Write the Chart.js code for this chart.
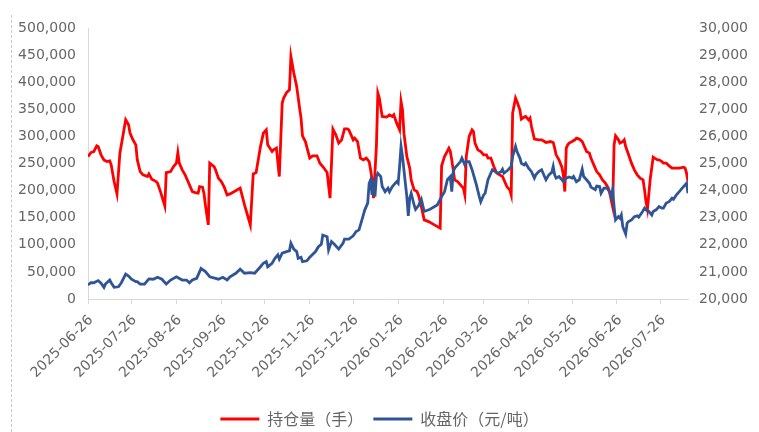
<!DOCTYPE html>
<html>
<head>
<meta charset="utf-8">
<script src="https://cdn.jsdelivr.net/npm/chart.js@4.4.1/dist/chart.umd.min.js"></script>
<style>
  html, body { margin: 0; padding: 0; background: #fff; }
  #wrap { position: relative; width: 759px; height: 432px; }
  #dash { position: absolute; left: 11px; top: 15px; bottom: 0; border-left: 1px dashed #c8c8c8; }
</style>
</head>
<body>
<div id="wrap">
  <div id="dash"></div>
  <canvas id="c"></canvas>
</div>
<script>
// ---- data (x = calendar-day offset from startDate) ----
const startDate = '2025-06-26';
const endDay = 414;
const tickLabels = ['2025-06-26','2025-07-26','2025-08-26','2025-09-26','2025-10-26','2025-11-26','2025-12-26',
  '2026-01-26','2026-02-26','2026-03-26','2026-04-26','2026-05-26','2026-06-26','2026-07-26'];
const seriesNames = ['持仓量（手）', '收盘价（元/吨）'];

const oiDays = [0,2,4,6,7,9,11,13,15,16,18,20,22,24,26,28,29,31,33,34,36,38,41,42,44,45,47,48,50,53,54,57,59,61,62,63,65,67,69,70,72,74,76,77,79,80,81,83,84,87,88,90,92,94,96,98,101,105,108,112,114,116,119,121,123,124,127,128,130,132,134,135,137,139,140,142,144,146,147,148,150,153,155,158,160,162,165,167,169,171,173,175,177,179,180,183,184,186,188,190,192,194,195,196,197,199,200,201,203,206,208,210,211,213,215,216,217,218,220,222,223,225,227,228,230,232,235,239,243,244,246,249,250,251,253,255,257,258,259,260,261,263,265,266,267,269,271,273,275,276,278,280,282,284,286,289,291,292,293,295,296,298,299,301,302,304,305,306,308,311,313,315,316,319,321,322,323,325,327,328,329,330,331,332,334,336,337,339,341,343,344,346,347,349,351,353,355,357,359,360,362,363,364,366,367,369,370,371,373,375,377,379,381,383,384,385,386,388,390,391,393,394,396,397,399,401,403,406,408,411,412,413,414];
const oiValues = [262800,270200,272100,282600,281300,266000,256700,253600,254900,247500,216700,193900,269100,299800,330600,321400,306000,293700,284400,256700,235100,229000,225900,230900,221100,219800,216700,213700,198200,171800,233300,235100,244400,250600,270200,250600,238300,229000,216700,210600,198200,196300,195200,207400,206300,195200,173600,136700,250600,244400,238300,222900,216700,206300,192100,193900,198200,204500,173600,136700,230900,233300,281300,306000,312100,284400,272100,275200,278300,225900,361500,370700,381000,386000,447500,416900,392100,352200,333800,301100,290500,259900,264100,264100,250600,244400,233300,186000,313400,302900,287600,293700,314000,314000,312100,293700,296800,290500,259900,256700,259900,253600,238300,219800,186000,281300,379900,370700,336700,335600,339800,336700,339800,324500,312100,364400,349100,306000,262800,241400,219800,201300,198200,192100,170500,145900,142800,136700,130600,245700,262800,278300,272100,256700,219800,216700,210600,207400,204500,192100,262800,299800,312100,309000,287600,275200,272100,266000,266000,259900,259900,244400,232200,229000,225900,207400,201300,192100,343000,370700,364400,349100,331900,335600,336700,330600,333800,318200,295000,293700,293700,290500,288700,290500,288700,278300,266000,256700,243200,229000,198200,278300,284400,287600,290500,293700,296800,295000,290500,278300,272100,269100,259900,247500,235100,229000,219800,213700,204500,195200,170500,284400,301100,293700,287600,290500,293700,281300,266000,250600,238300,229000,222900,219800,201300,179700,165700,222900,261700,259900,256700,256700,253600,250600,250600,245700,241400,241400,241400,243200,241400,232200,216700];

const priceDays = [0,2,4,7,9,11,12,15,16,18,21,23,26,28,30,33,34,36,39,42,45,48,51,54,57,61,65,68,70,72,75,78,81,84,88,90,93,96,98,102,105,108,112,115,119,121,123,124,127,129,131,132,134,137,139,140,142,144,145,147,148,151,153,157,159,161,162,165,166,168,170,173,176,177,180,183,185,187,189,191,193,194,195,196,197,198,199,200,202,203,205,207,208,210,211,213,214,215,216,217,219,220,221,222,223,225,226,228,230,232,236,241,244,246,248,250,251,252,253,255,257,258,260,261,263,265,267,268,270,271,273,274,276,279,281,283,285,286,287,290,292,293,295,296,298,299,301,302,304,306,308,309,311,313,315,316,318,320,321,322,323,325,327,328,330,332,334,335,337,339,341,342,344,346,347,350,351,353,354,356,358,360,361,362,363,364,366,367,368,369,371,372,373,375,377,379,380,382,384,385,387,389,390,392,394,396,397,399,401,403,404,406,408,410,412,413,414];
const priceValues = [20520,20600,20600,20680,20580,20430,20550,20700,20600,20430,20450,20600,20920,20850,20730,20640,20640,20550,20550,20740,20730,20800,20730,20550,20700,20820,20700,20700,20600,20700,20760,21130,21010,20820,20760,20730,20800,20700,20820,20950,21100,20950,20970,20950,21190,21320,21380,21190,21320,21500,21630,21470,21690,21750,21780,22060,21840,21750,21500,21540,21380,21410,21540,21750,21930,22020,22360,22300,21810,22120,22020,21840,22060,22210,22210,22330,22490,22550,22920,23290,23540,24270,24400,23840,24400,23780,24520,24640,24520,24150,23960,24090,23960,24150,24210,24330,24270,24890,25630,25260,24270,23780,23070,23720,23900,23470,23310,23440,23680,23230,23310,23470,23780,23960,24400,24520,23960,24700,24830,24950,25070,25200,24950,25070,25070,24770,24400,24210,23780,23590,23840,23900,24400,24770,24700,24640,24700,24790,24640,24770,24890,25260,25630,25440,25200,25010,24950,25010,24830,24700,24460,24580,24700,24770,24520,24400,24580,24670,24890,24580,24460,24520,24400,24330,24460,24500,24460,24520,24330,24400,24790,24520,24400,24270,24130,24030,24170,24150,23900,24090,24090,23960,23780,24030,23410,22920,23040,22980,23100,22670,22400,22800,22860,22920,23040,23070,23020,23170,23350,23290,23230,23100,23230,23290,23410,23350,23350,23540,23590,23720,23680,23840,23960,24090,24210,24270,23900];

// ---- build ----
const DAY = 86400000;
const tickDays = tickLabels.map(s => Math.round((Date.parse(s) - Date.parse(startDate)) / DAY));
const toPts = (xs, ys) => xs.map((x, i) => ({ x: x, y: ys[i] }));
const NUMFONT = '"DejaVu Sans", "Noto Sans CJK SC", sans-serif';
const CJKFONT = '"Noto Sans CJK SC", "Noto Sans", sans-serif';
const GREY = '#666666';
const fmt = v => Number(v).toLocaleString('en-US');

const legendHeight = {
  id: 'legendHeight',
  beforeInit(chart) {
    const fit = chart.legend.fit;
    chart.legend.fit = function () { fit.call(this); this.height = 31; };
  }
};

new Chart(document.getElementById('c'), {
  type: 'line',
  data: {
    datasets: [
      { label: seriesNames[0], data: toPts(oiDays, oiValues), yAxisID: 'y',
        borderColor: '#FF0000', backgroundColor: '#FF0000', borderWidth: 2.8,
        pointRadius: 0, tension: 0, order: 1 },
      { label: seriesNames[1], data: toPts(priceDays, priceValues), yAxisID: 'y1',
        borderColor: '#2F5597', backgroundColor: '#2F5597', borderWidth: 2.8,
        pointRadius: 0, tension: 0, order: 0 }
    ]
  },
  options: {
    responsive: true,
    maintainAspectRatio: false,
    animation: false,
    layout: { padding: { top: 28, left: 0, right: 0, bottom: 0 } },
    plugins: {
      tooltip: { enabled: false },
      legend: {
        position: 'bottom',
        labels: {
          font: { family: CJKFONT, size: 16 },
          color: GREY,
          boxWidth: 39,
          boxHeight: 3,
          padding: 10,
          sort: (a, b) => a.datasetIndex - b.datasetIndex,
          generateLabels: (chart) => Chart.defaults.plugins.legend.labels.generateLabels(chart)
            .map(l => Object.assign(l, { lineWidth: 0 }))
        }
      }
    },
    scales: {
      x: {
        type: 'linear',
        position: 'bottom',
        min: 0,
        max: endDay,
        afterBuildTicks: (scale) => { scale.ticks = tickDays.map(v => ({ value: v })); },
        afterFit: (scale) => { scale.height = 102; },
        ticks: {
          autoSkip: false,
          minRotation: 45,
          maxRotation: 45,
          padding: 8,
          labelOffset: 3,
          color: GREY,
          font: { family: NUMFONT, size: 14 },
          callback: (value, index) => tickLabels[index]
        },
        grid: { display: true, drawOnChartArea: false, drawTicks: true, tickLength: 5, color: '#d9d9d9' },
        border: { display: true, color: '#d9d9d9', width: 1 }
      },
      y: {
        position: 'left',
        min: 0,
        max: 500000,
        afterFit: (scale) => { scale.width = 88; },
        ticks: { stepSize: 50000, padding: 12, color: GREY, font: { family: NUMFONT, size: 14 }, callback: fmt },
        grid: { display: false, drawTicks: false },
        border: { display: true, color: '#d9d9d9', width: 1 }
      },
      y1: {
        position: 'right',
        min: 20000,
        max: 30000,
        afterFit: (scale) => { scale.width = 71; },
        ticks: { stepSize: 1000, padding: 11, color: GREY, font: { family: NUMFONT, size: 14 }, callback: fmt },
        grid: { display: false, drawTicks: false },
        border: { display: false }
      }
    }
  },
  plugins: [legendHeight]
});
</script>
</body>
</html>
